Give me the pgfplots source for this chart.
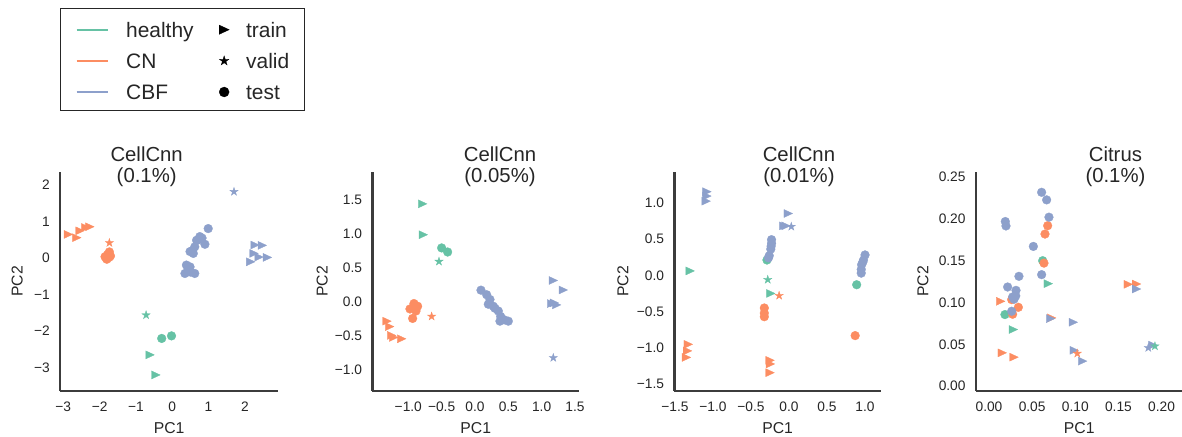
\documentclass[border=0pt]{standalone}
\usepackage{fontspec}
\setmainfont{Liberation Sans}
\usepackage{pgfplots}
\pgfplotsset{compat=1.18}
\definecolor{cH}{HTML}{66C2A5}
\definecolor{cN}{HTML}{FC8D62}
\definecolor{cB}{HTML}{8DA0CB}
\definecolor{txt}{HTML}{262626}
\definecolor{spine}{HTML}{3C3C3C}

\pgfdeclareplotmark{rtri}{%
  \pgfpathmoveto{\pgfqpoint{\pgfplotmarksize}{0pt}}%
  \pgfpathlineto{\pgfqpoint{-\pgfplotmarksize}{0.93\pgfplotmarksize}}%
  \pgfpathlineto{\pgfqpoint{-\pgfplotmarksize}{-0.93\pgfplotmarksize}}%
  \pgfpathclose
  \pgfusepathqfillstroke}
\pgfdeclareplotmark{fstar}{%
  \pgfpathmoveto{\pgfpointpolar{90}{\pgfplotmarksize}}%
  \pgfpathlineto{\pgfpointpolar{126}{0.382*\pgfplotmarksize}}%
  \pgfpathlineto{\pgfpointpolar{162}{\pgfplotmarksize}}%
  \pgfpathlineto{\pgfpointpolar{198}{0.382*\pgfplotmarksize}}%
  \pgfpathlineto{\pgfpointpolar{234}{\pgfplotmarksize}}%
  \pgfpathlineto{\pgfpointpolar{270}{0.382*\pgfplotmarksize}}%
  \pgfpathlineto{\pgfpointpolar{306}{\pgfplotmarksize}}%
  \pgfpathlineto{\pgfpointpolar{342}{0.382*\pgfplotmarksize}}%
  \pgfpathlineto{\pgfpointpolar{18}{\pgfplotmarksize}}%
  \pgfpathlineto{\pgfpointpolar{54}{0.382*\pgfplotmarksize}}%
  \pgfpathclose
  \pgfusepathqfillstroke}

\pgfplotsset{
  panel/.style={
    scale only axis, height=219bp, anchor=south west,
    axis lines*=left,
    axis line style={draw=spine, line width=2.4bp},
    major tick length=0pt, tick style={draw=none},
    clip=false,
    tick label style={font=\fontsize{13.8}{16}\selectfont, color=txt},
    xticklabel style={anchor=north, inner sep=0pt, yshift=-11bp},
    yticklabel style={anchor=east, inner sep=0pt, xshift=-10bp},
    every axis x label/.style={at={(axis description cs:0.5,-0.1918)}, anchor=base},
    every axis y label/.style={rotate=90, anchor=center},
    label style={font=\fontsize{15.8}{18}\selectfont, color=txt},
    title style={font=\fontsize{20.4}{20.5}\selectfont, color=txt, anchor=base},
    xlabel={PC1}, ylabel={PC2},
  },
  s/.style 2 args={only marks, forget plot, mark=#1, mark size=4.4bp,
    mark options={fill=#2, draw=#2, line width=0.3bp, solid}},
  tri/.style={s={rtri}{#1}, mark size=4.3bp},
  sta/.style={s={fstar}{#1}, mark size=4.4bp},
  legline/.style={legend image code/.code={\draw[##1] (0bp,7.5bp) -- (31.7bp,7.5bp);}},
  legmark/.style={legend image code/.code={\draw[##1] plot[only marks] coordinates {(0bp,7.5bp)};}},
}

\begin{document}
\begin{tikzpicture}
\useasboundingbox (0,0) rectangle (1182bp,437bp);

% ---------------- Panel 1
\begin{axis}[panel, at={(60bp,46bp)}, width=218.3bp,
  xmin=-3.09, xmax=2.92, ymin=-3.64, ymax=2.36,
  xtick={-3,-2,-1,0,1,2}, xticklabels={−3,−2,−1,0,1,2},
  ytick={-3,-2,-1,0,1,2}, yticklabels={−3,−2,−1,0,1,2},
  ylabel style={at={(axis description cs:-0.196,0.5)}},
  title={\begin{tabular}[b]{@{}c@{}}CellCnn\\(0.1\%)\end{tabular}},
  title style={at={(axis description cs:0.397,0.9247)}},
  legend columns=2,
  legend style={at={(axis description cs:0,1.7475)}, anchor=north west,
    draw=txt, line width=1bp, fill=white, inner xsep=15bp, inner ysep=10bp,
    row sep=11.75bp, font=\fontsize{21}{24}\selectfont, text=txt,
    cells={anchor=base west},
    nodes={inner sep=0pt, text height=18.4bp, text depth=1bp},
    /tikz/every odd column/.append style={column sep=17bp},
    /tikz/every even column/.append style={column sep=25.5bp}},
]
\addlegendimage{legline, cH, line width=2bp}
\addlegendentry{healthy}
\addlegendimage{legmark, only marks, mark=rtri, mark size=5bp, black, line width=0.3bp}
\addlegendentry{train}
\addlegendimage{legline, cN, line width=2bp}
\addlegendentry{CN}
\addlegendimage{legmark, only marks, mark=fstar, mark size=5bp, black, line width=0.3bp}
\addlegendentry{valid}
\addlegendimage{legline, cB, line width=2bp}
\addlegendentry{CBF}
\addlegendimage{legmark, only marks, mark=*, mark size=5bp, black, line width=0.3bp}
\addlegendentry{test}

\addplot[s={*}{cH}] coordinates {(-0.29,-2.20) (-0.02,-2.13)};
\addplot[s={*}{cN}] coordinates {(-1.85,0.04) (-1.80,-0.03) (-1.74,0.02) (-1.78,0.10) (-1.73,0.17) (-1.82,0.0) (-1.70,0.06)};
\addplot[s={*}{cB}] coordinates {(0.99,0.81) (0.76,0.59) (0.67,0.49) (0.82,0.55) (0.90,0.38) (0.62,0.31) (0.49,0.18) (0.58,0.13) (0.39,-0.19) (0.49,-0.24) (0.35,-0.42) (0.62,-0.42) (0.50,-0.38) (0.44,-0.30) (0.72,0.50) (0.55,0.20)};
\addplot[tri=cH] coordinates {(-0.61,-2.65) (-0.45,-3.20)};
\addplot[tri=cN] coordinates {(-2.86,0.65) (-2.63,0.56) (-2.54,0.75) (-2.38,0.84) (-2.27,0.86)};
\addplot[tri=cB] coordinates {(2.28,0.36) (2.48,0.35) (2.25,0.13) (2.16,-0.10) (2.39,0.03) (2.62,0.02)};
\addplot[sta=cB] coordinates {(1.70,1.82)};
\addplot[sta=cN] coordinates {(-1.73,0.42)};
\addplot[sta=cH] coordinates {(-0.72,-1.56)};
\end{axis}

% ---------------- Panel 2
\begin{axis}[panel, at={(372.3bp,46bp)}, width=207bp,
  xmin=-1.54, xmax=1.565, ymin=-1.32, ymax=1.91,
  xtick={-1,-0.5,0,0.5,1,1.5}, xticklabels={−1.0,−0.5,0.0,0.5,1.0,1.5},
  ytick={-1,-0.5,0,0.5,1,1.5}, yticklabels={−1.0,−0.5,0.0,0.5,1.0,1.5},
  ylabel style={at={(axis description cs:-0.242,0.5)}},
  title={\begin{tabular}[b]{@{}c@{}}CellCnn\\(0.05\%)\end{tabular}},
  title style={at={(axis description cs:0.617,0.9247)}},
]
\addplot[s={*}{cH}] coordinates {(-0.50,0.79) (-0.41,0.73)};
\addplot[s={*}{cN}] coordinates {(-0.915,-0.03) (-0.975,-0.11) (-0.86,-0.07) (-0.885,-0.14) (-0.935,-0.25) (-0.92,-0.10)};
\addplot[s={*}{cB}] coordinates {(0.09,0.167) (0.175,0.10) (0.225,0.03) (0.20,-0.04) (0.275,-0.07) (0.35,-0.14) (0.385,-0.22) (0.375,-0.29) (0.50,-0.29) (0.44,-0.27) (0.30,-0.10)};
\addplot[tri=cH] coordinates {(-0.785,1.44) (-0.775,0.985)};
\addplot[tri=cN] coordinates {(-1.32,-0.29) (-1.28,-0.37) (-1.25,-0.50) (-1.22,-0.53) (-1.10,-0.55)};
\addplot[tri=cB] coordinates {(1.175,0.31) (1.325,0.17) (1.15,-0.03) (1.225,-0.05) (1.19,-0.02)};
\addplot[sta=cB] coordinates {(1.175,-0.83)};
\addplot[sta=cN] coordinates {(-0.65,-0.22)};
\addplot[sta=cH] coordinates {(-0.54,0.59)};
\end{axis}

% ---------------- Panel 3
\begin{axis}[panel, at={(674.3bp,46bp)}, width=206.7bp,
  xmin=-1.509, xmax=1.21, ymin=-1.592, ymax=1.421,
  xtick={-1.5,-1,-0.5,0,0.5,1}, xticklabels={−1.5,−1.0,−0.5,0.0,0.5,1.0},
  ytick={-1.5,-1,-0.5,0,0.5,1}, yticklabels={−1.5,−1.0,−0.5,0.0,0.5,1.0},
  ylabel style={at={(axis description cs:-0.248,0.5)}},
  title={\begin{tabular}[b]{@{}c@{}}CellCnn\\(0.01\%)\end{tabular}},
  title style={at={(axis description cs:0.603,0.9247)}},
]
\addplot[s={*}{cH}] coordinates {(-0.29,0.21) (0.89,-0.13)};
\addplot[s={*}{cN}] coordinates {(-0.325,-0.45) (-0.325,-0.52) (-0.325,-0.57) (0.87,-0.83)};
\addplot[s={*}{cB}] coordinates {(-0.23,0.49) (-0.23,0.44) (-0.235,0.40) (-0.24,0.36) (-0.26,0.27) (-0.27,0.24) (1.0,0.28) (0.98,0.21) (0.955,0.145) (0.95,0.08) (0.95,0.03) (0.97,0.18)};
\addplot[tri=cH] coordinates {(-1.30,0.06) (-0.24,-0.25)};
\addplot[tri=cN] coordinates {(-1.325,-0.95) (-1.335,-1.04) (-1.35,-1.13) (-0.25,-1.17) (-0.245,-1.22) (-0.25,-1.34)};
\addplot[tri=cB] coordinates {(-1.08,1.15) (-1.08,1.09) (-1.09,1.02) (-0.01,0.85) (-0.07,0.68) (-0.04,0.68)};
\addplot[sta=cB] coordinates {(0.03,0.67)};
\addplot[sta=cN] coordinates {(-0.13,-0.28)};
\addplot[sta=cH] coordinates {(-0.28,-0.06)};
\end{axis}

% ---------------- Panel 4
\begin{axis}[panel, at={(975.7bp,46bp)}, width=207bp,
  xmin=-0.0154, xmax=0.2245, ymin=-0.0059, ymax=0.2563,
  xtick={0,0.05,0.1,0.15,0.2}, xticklabels={0.00,0.05,0.10,0.15,0.20},
  ytick={0,0.05,0.1,0.15,0.2,0.25}, yticklabels={0.00,0.05,0.10,0.15,0.20,0.25},
  ylabel style={at={(axis description cs:-0.2546,0.5)}},
  title={\begin{tabular}[b]{@{}c@{}}Citrus\\(0.1\%)\end{tabular}},
  title style={at={(axis description cs:0.675,0.9247)}},
]
\addplot[s={*}{cH}] coordinates {(0.0622,0.1501) (0.0185,0.0856)};
\addplot[s={*}{cN}] coordinates {(0.068,0.192) (0.0649,0.182) (0.0637,0.1472) (0.034,0.0943) (0.0263,0.1035) (0.0274,0.0860)};
\addplot[s={*}{cB}] coordinates {(0.061,0.232) (0.0668,0.2229) (0.0695,0.2022) (0.0189,0.1970) (0.0197,0.1917) (0.0514,0.1672) (0.0347,0.1314) (0.061,0.1334) (0.0216,0.1186) (0.0313,0.1146) (0.0274,0.1067) (0.031,0.108) (0.0290,0.1040) (0.0263,0.0896)};
\addplot[tri=cH] coordinates {(0.0687,0.1226) (0.0282,0.0677)};
\addplot[tri=cN] coordinates {(0.0135,0.1015) (0.1614,0.1218) (0.171,0.1222) (0.0154,0.0398) (0.029,0.0346) (0.0726,0.0816)};
\addplot[tri=cB] coordinates {(0.0714,0.0808) (0.0977,0.0764) (0.171,0.1162) (0.0988,0.0428) (0.1085,0.0299) (0.19,0.049)};
\addplot[sta=cB] coordinates {(0.1846,0.0458)};
\addplot[sta=cN] coordinates {(0.1023,0.039)};
\addplot[sta=cH] coordinates {(0.1923,0.0478)};
\end{axis}
\end{tikzpicture}
\end{document}
